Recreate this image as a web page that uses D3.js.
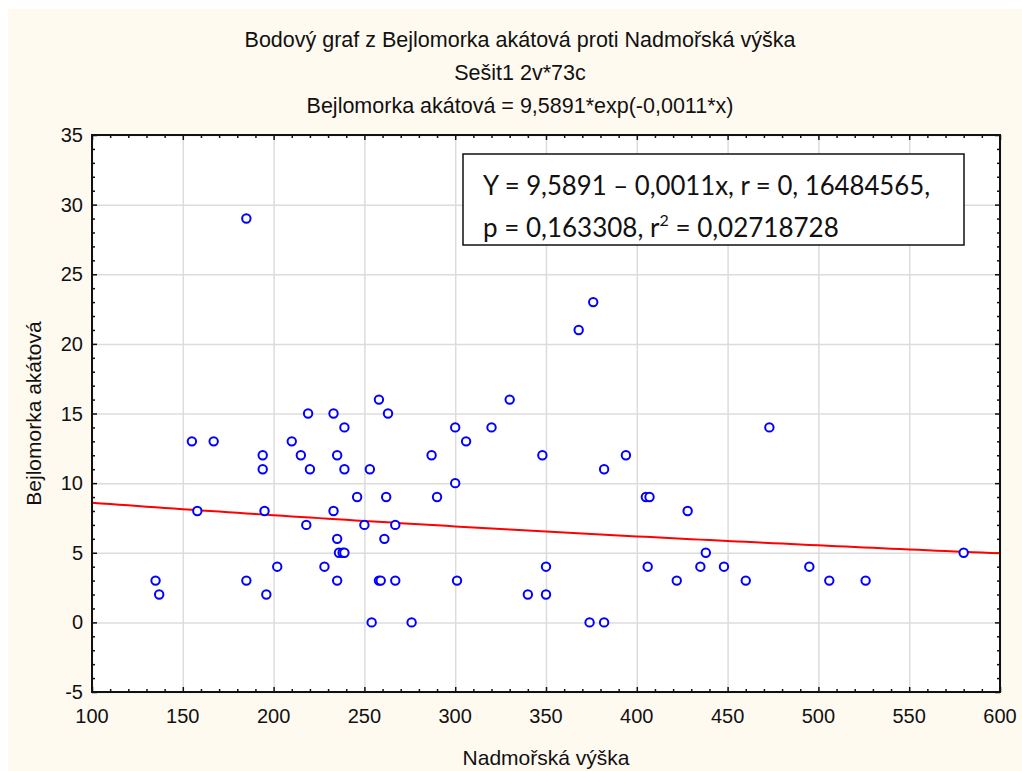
<!DOCTYPE html>
<html>
<head>
<meta charset="utf-8">
<script src="https://cdn.jsdelivr.net/npm/d3@7"></script>
<style>
  body { margin: 0; background: #fff; }
  svg { display: block; }
  text { font-family: "Liberation Sans", Arial, sans-serif; fill: #111; }
  text.stat { font-family: Lato, "Open Sans", sans-serif; }
  .grid line { stroke: #dcdcdc; stroke-width: 1.5; }
  .grid .domain { display: none; }
  .ticks line { stroke: #111; stroke-width: 1.5; }
  .ticks .domain { display: none; }
</style>
</head>
<body>
<div id="chart"></div>
<script>
// Nadmořská výška (x) vs Bejlomorka akátová (y), 73 cases
const altitude = [
  258, 219, 233, 263, 239, 155, 167, 210, 194, 215,
  235, 194, 220, 239, 253, 246, 262, 158, 195, 233,
  218, 250, 267, 235, 261, 236, 238, 239, 202, 228,
  135, 185, 235, 258, 259, 267, 137, 196, 254, 185,
  376, 368, 330, 300, 320, 306, 287, 348, 394, 382,
  300, 290, 405, 407, 350, 406, 301, 422, 340, 350,
  276, 374, 382, 473, 428, 438, 580, 435, 448, 495,
  460, 506, 526
];
const bejlomorka = [
  16, 15, 15, 15, 14, 13, 13, 13, 12, 12,
  12, 11, 11, 11, 11, 9, 9, 8, 8, 8,
  7, 7, 7, 6, 6, 5, 5, 5, 4, 4,
  3, 3, 3, 3, 3, 3, 2, 2, 0, 29,
  23, 21, 16, 14, 14, 13, 12, 12, 12, 11,
  10, 9, 9, 9, 4, 4, 3, 3, 2, 2,
  0, 0, 0, 14, 8, 5, 5, 4, 4, 4,
  3, 3, 3
];

// fitted model: y = a * exp(b * x)
const fitA = 9.5891;
const fitB = -0.0011;

const titleLines = [
  'Bodový graf z Bejlomorka akátová proti Nadmořská výška',
  'Sešit1 2v*73c',
  'Bejlomorka akátová = 9,5891*exp(-0,0011*x)'
];
const xLabel = 'Nadmořská výška';
const yLabel = 'Bejlomorka akátová';

const W = 1022, H = 771;
const plot = {left: 92, right: 1000, top: 135, bottom: 692};

const svg = d3.select('#chart').append('svg')
  .attr('width', W)
  .attr('height', H);

// cream page background
svg.append('rect')
  .attr('x', 8).attr('y', 9)
  .attr('width', W - 8).attr('height', H - 9)
  .attr('fill', '#fffaf0');

svg.append('rect')
  .attr('x', plot.left).attr('y', plot.top)
  .attr('width', plot.right - plot.left)
  .attr('height', plot.bottom - plot.top)
  .attr('fill', '#fff');

const x = d3.scaleLinear().domain([100, 600]).range([plot.left, plot.right]);
const y = d3.scaleLinear().domain([-5, 35]).range([plot.bottom, plot.top]);

const xMajor = d3.range(100, 601, 50);
const yMajor = d3.range(-5, 36, 5);
const xMinor = d3.range(100, 601, 10).filter(v => v % 50);
const yMinor = d3.range(-5, 36, 1).filter(v => v % 5);

// grid
svg.append('g').classed('grid', true)
  .attr('transform', `translate(0, ${plot.bottom})`)
  .call(d3.axisBottom(x).tickValues(xMajor).tickSize(-(plot.bottom - plot.top)).tickFormat(''));
svg.append('g').classed('grid', true)
  .attr('transform', `translate(${plot.left}, 0)`)
  .call(d3.axisLeft(y).tickValues(yMajor).tickSize(-(plot.right - plot.left)).tickFormat(''));

// inward ticks on all four sides
function ticks(axisFn, scale, values, size, tx, ty) {
  svg.append('g').classed('ticks', true)
    .attr('transform', `translate(${tx}, ${ty})`)
    .call(axisFn(scale).tickValues(values).tickSize(-size).tickFormat(''));
}
ticks(d3.axisBottom, x, xMajor, 5, 0, plot.bottom);
ticks(d3.axisBottom, x, xMinor, 3, 0, plot.bottom);
ticks(d3.axisTop, x, xMajor, 5, 0, plot.top);
ticks(d3.axisTop, x, xMinor, 3, 0, plot.top);
ticks(d3.axisLeft, y, yMajor, 5, plot.left, 0);
ticks(d3.axisLeft, y, yMinor, 3, plot.left, 0);
ticks(d3.axisRight, y, yMajor, 5, plot.right, 0);
ticks(d3.axisRight, y, yMinor, 3, plot.right, 0);

// tick labels
svg.append('g').selectAll('text')
  .data(xMajor)
  .join('text')
  .attr('x', d => x(d))
  .attr('y', 723)
  .attr('text-anchor', 'middle')
  .attr('font-size', 20)
  .text(d => d);
svg.append('g').selectAll('text')
  .data(yMajor)
  .join('text')
  .attr('x', 83)
  .attr('y', d => y(d) + 7)
  .attr('text-anchor', 'end')
  .attr('font-size', 20)
  .text(d => d);

// fitted curve
const curveX = d3.range(100, 600.1, 5);
const line = d3.line()
  .x(d => x(d))
  .y(d => y(fitA * Math.exp(fitB * d)));
svg.append('path')
  .datum(curveX)
  .attr('d', line)
  .attr('fill', 'none')
  .attr('stroke', '#ff0000')
  .attr('stroke-width', 2);

// points
svg.append('g').selectAll('circle')
  .data(d3.zip(altitude, bejlomorka))
  .join('circle')
  .attr('cx', d => x(d[0]))
  .attr('cy', d => y(d[1]))
  .attr('r', 4.2)
  .attr('fill', '#fff')
  .attr('stroke', '#0000ff')
  .attr('stroke-width', 2);

// frame
svg.append('rect')
  .attr('x', plot.left).attr('y', plot.top)
  .attr('width', plot.right - plot.left)
  .attr('height', plot.bottom - plot.top)
  .attr('fill', 'none')
  .attr('stroke', '#111')
  .attr('stroke-width', 2);

// titles
svg.append('g').selectAll('text')
  .data(titleLines)
  .join('text')
  .attr('x', 520)
  .attr('y', (d, i) => 47 + i * 33)
  .attr('text-anchor', 'middle')
  .attr('font-size', 21.5)
  .text(d => d);

svg.append('text')
  .attr('x', 546)
  .attr('y', 765)
  .attr('text-anchor', 'middle')
  .attr('font-size', 21)
  .text(xLabel);

svg.append('text')
  .attr('transform', `translate(41, ${(plot.top + plot.bottom) / 2}) rotate(-90)`)
  .attr('text-anchor', 'middle')
  .attr('font-size', 21)
  .text(yLabel);

// regression stats box
const box = svg.append('g').attr('transform', 'translate(463, 154)');
box.append('rect')
  .attr('width', 501).attr('height', 91)
  .attr('fill', '#fff')
  .attr('stroke', '#111')
  .attr('stroke-width', 1.5);
box.append('text')
  .classed('stat', true)
  .attr('x', 20).attr('y', 41)
  .attr('font-size', 26)
  .attr('textLength', 447)
  .attr('lengthAdjust', 'spacingAndGlyphs')
  .text('Y = 9,5891 – 0,0011x, r = 0, 16484565,');
const l2 = box.append('text')
  .classed('stat', true)
  .attr('x', 20).attr('y', 83)
  .attr('font-size', 26);
l2.append('tspan').text('p = 0,163308, r');
l2.append('tspan').attr('dy', -11).attr('font-size', 16).text('2');
l2.append('tspan').attr('dy', 11).text(' = 0,02718728');
</script>
</body>
</html>
